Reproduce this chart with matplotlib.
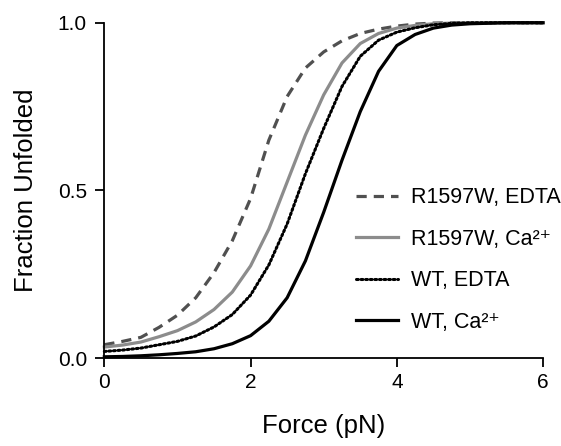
import matplotlib
matplotlib.use("Agg")
import matplotlib.pyplot as plt

plt.rcParams['font.family'] = ['Liberation Sans', 'DejaVu Sans']

# force (pN) at 0.25 pN steps
force = [0.0, 0.25, 0.5, 0.75, 1.0, 1.25, 1.5, 1.75, 2.0, 2.25, 2.5, 2.75,
         3.0, 3.25, 3.5, 3.75, 4.0, 4.25, 4.5, 4.75, 5.0, 5.5, 6.0]

r1597w_edta = [0.040, 0.050, 0.062, 0.092, 0.128, 0.180, 0.255, 0.350, 0.476,
               0.650, 0.780, 0.865, 0.913, 0.946, 0.968, 0.981, 0.990, 0.996,
               0.999, 1.0, 1.0, 1.0, 1.0]
r1597w_ca = [0.033, 0.039, 0.048, 0.064, 0.082, 0.108, 0.145, 0.197, 0.275,
             0.385, 0.525, 0.665, 0.785, 0.880, 0.938, 0.968, 0.984, 0.992,
             0.997, 0.999, 1.0, 1.0, 1.0]
wt_edta = [0.020, 0.024, 0.030, 0.040, 0.050, 0.066, 0.093, 0.130, 0.188,
           0.278, 0.400, 0.550, 0.685, 0.810, 0.900, 0.948, 0.972, 0.985,
           0.994, 0.998, 1.0, 1.0, 1.0]
wt_ca = [0.004, 0.005, 0.007, 0.010, 0.014, 0.019, 0.028, 0.043, 0.067,
         0.110, 0.180, 0.290, 0.435, 0.590, 0.735, 0.855, 0.932, 0.965,
         0.984, 0.993, 0.997, 1.0, 1.0]

labels = ['R1597W, EDTA', 'R1597W, Ca²⁺', 'WT, EDTA', 'WT, Ca²⁺']

fig = plt.figure(figsize=(5.61, 4.46), dpi=100)
ax = fig.add_axes([0.186, 0.197, 0.782, 0.752])

ax.plot(force, r1597w_edta, color='#505050', lw=2.3, ls=(0, (3.2, 2.2)),
        label=labels[0], clip_on=False)
ax.plot(force, r1597w_ca, color='#8c8c8c', lw=2.3, label=labels[1], clip_on=False)
ax.plot(force, wt_edta, color='black', lw=2.2, ls=(0, (0.6, 0.9)),
        dash_capstyle='round', label=labels[2], clip_on=False)
ax.plot(force, wt_ca, color='black', lw=2.3, label=labels[3], clip_on=False)

ax.set_xlim(0, 6)
ax.set_ylim(0, 1)
ax.set_xticks([0, 2, 4, 6])
ax.set_yticks([0.0, 0.5, 1.0])
ax.set_yticklabels(['0.0', '0.5', '1.0'])

for side in ['top', 'right']:
    ax.spines[side].set_visible(False)
for side in ['left', 'bottom']:
    ax.spines[side].set_linewidth(1.3)
ax.tick_params(direction='out', length=6.5, width=1.3, labelsize=15, pad=4)
ax.tick_params(axis='y', pad=6)

ax.set_xlabel('Force (pN)', fontsize=18.5, labelpad=16)
ax.set_ylabel('Fraction Unfolded', fontsize=18.5, labelpad=14)

ax.legend(loc='upper left', bbox_to_anchor=(0.53, 0.567), frameon=False,
          fontsize=15.5, handlelength=1.95, handletextpad=0.6, labelspacing=0.95)

fig.savefig('out.png', dpi=100)
